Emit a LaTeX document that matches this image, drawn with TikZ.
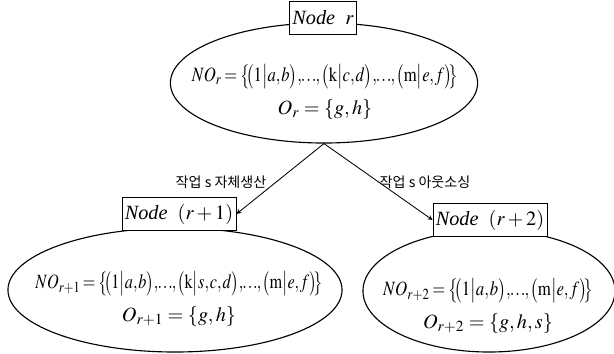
\documentclass[tikz,border=0pt]{standalone}
\usepackage{mathptmx}
\usepackage{graphicx}
\usepackage[no-math]{fontspec}
\setmainfont{Liberation Serif}
\newfontfamily\krfont{Noto Sans CJK KR}
\usetikzlibrary{shapes.geometric}

% squeeze a formula sideways, height kept
\newcommand{\fitw}[2]{\scalebox{#1}[1]{%
  \thinmuskip=1mu\medmuskip=2mu\thickmuskip=3mu$#2$}}
\newcommand{\pr}[2]{\bigl(#1\big|#2\bigr)}
\newcommand{\dts}{\mkern-2mu\ldots\mkern-2mu}

\tikzset{
  setell/.style={ellipse, draw, line width=0.8pt, inner sep=0pt},
  namebox/.style={draw, fill=white, line width=0.6pt, inner sep=2pt,
                  minimum height=0.83cm, font=\Large},
  settxt/.style={align=center, font=\Large},
  choice/.style={font=\krfont\fontsize{10}{12}\selectfont},
}

\begin{document}
\begin{tikzpicture}[x=0.025cm, y=-0.025cm, >=stealth]
\useasboundingbox (0,0) rectangle (614,354);
% Node r (top)
\node[setell, minimum width=7.68cm, minimum height=3cm] (rootell) at (324,83) {};
\node[settxt] (roottxt) at (325,92)
  {\fitw{0.82}{NO_r=\bigl\{\mkern-4mu\pr{1}{a,b},\dts,\pr{\mathrm{k}}{c,d},\dts,\pr{\mathrm{m}}{e,f}\mkern-4mu\bigr\}}\\[5pt]
   $O_r=\{g,h\}$};
\node[namebox, minimum width=1.63cm] (rootname) at (323,18) {\textit{Node}~~$r$};
% Node r+1 (job s made in house)
\node[setell, minimum width=8.35cm, minimum height=3.1cm] (leftell) at (175,290) {};
\node[settxt] (lefttxt) at (179,299)
  {\fitw{0.8}{NO_{r+1}=\bigl\{\mkern-4mu\pr{1}{a,b},\dts,\pr{\mathrm{k}}{s,c,d},\dts,\pr{\mathrm{m}}{e,f}\mkern-4mu\bigr\}}\\[5pt]
   $O_{r+1}=\{g,h\}$};
\node[namebox, minimum width=2.85cm] (leftname) at (179,214) {\textit{Node}~~$(r+1)$};
% Node r+2 (job s outsourced)
\node[setell, minimum width=6.3cm, minimum height=3.05cm] (rightell) at (489,291) {};
\node[settxt] (righttxt) at (488,306)
  {\fitw{0.83}{NO_{r+2}=\bigl\{\mkern-4mu\pr{1}{a,b},\dts,\pr{\mathrm{m}}{e,f}\mkern-4mu\bigr\}}\\[5pt]
   $O_{r+2}=\{g,h,s\}$};
\node[namebox, minimum width=2.6cm] (rightname) at (490,220) {\textit{Node}~~$(r+2)$};
% Branches
\draw[->, line width=0.6pt] (rootell.south) -- (leftname.east);
\draw[->, line width=0.6pt] (rootell.south) -- (rightname.west);
\node[choice] (leftlbl) at (221,182) {작업 s 자체생산};
\node[choice] (rightlbl) at (425,182) {작업 s 아웃소싱};
\end{tikzpicture}
\end{document}
